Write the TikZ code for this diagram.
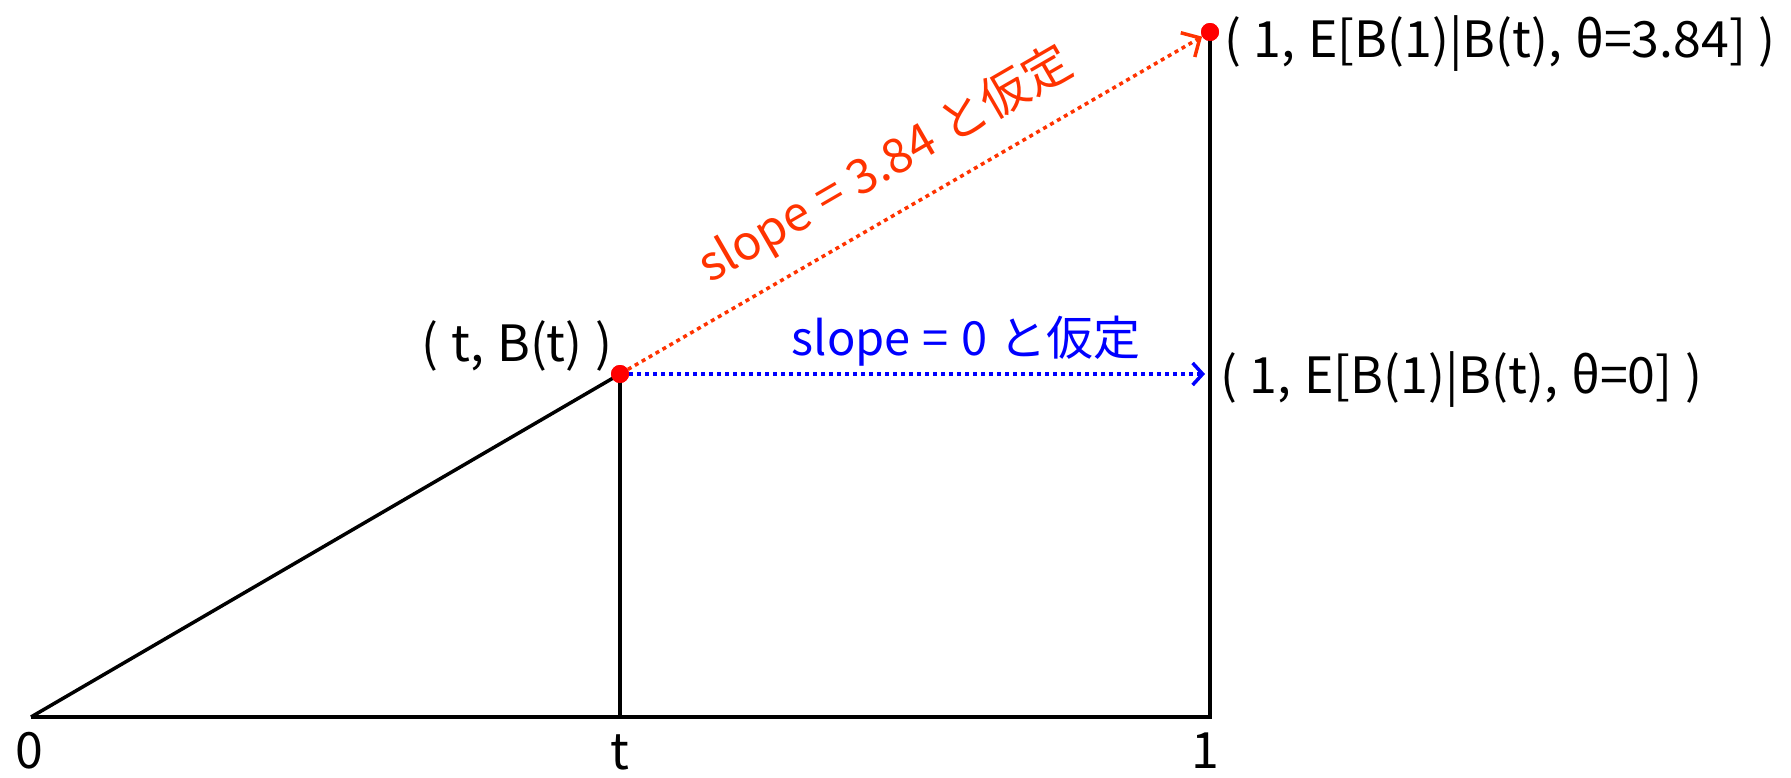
\documentclass[tikz,border=0pt]{standalone}
\usepackage{fontspec}
\setmainfont{Noto Sans CJK JP}[WordSpace=1.15]
\usetikzlibrary{arrows.meta}
\definecolor{slopered}{HTML}{FF3300}
\definecolor{dotred}{HTML}{FF0000}
\definecolor{slopeblue}{HTML}{0000FF}
\begin{document}
\begin{tikzpicture}[x=1pt,y=-1pt,
  axisline/.style={line width=3.5pt, black},
  ptdot/.style={circle, fill=dotred, inner sep=0pt, minimum size=18pt},
  redarrow/.style={line width=3.5pt, slopered, dash pattern=on 4pt off 4pt, -{Straight Barb[length=14pt, width=28pt, line width=3.5pt]}},
  bluearrow/.style={line width=3.5pt, slopeblue, dash pattern=on 4pt off 4pt, -{Straight Barb[length=10pt, width=22pt, line width=3.5pt]}},
  lbl/.style={inner sep=0pt, font=\fontsize{50}{54}\selectfont},
  tick/.style={inner sep=0pt, font=\fontsize{50}{54}\selectfont}
]
\useasboundingbox (0,0) rectangle (1791,777);
\coordinate (O) at (31,717);
\coordinate (T) at (620,717);
\coordinate (One) at (1210,717);
\coordinate (E0) at (1205,374);
\node[ptdot] (BT) at (620,374) {};
\node[ptdot] (Top) at (1210,32) {};
% black lines
\draw[axisline] (O) -- (BT.center);
\draw[axisline] (BT.center) -- (T);
\draw[axisline] (O) -- (T) -- (One) -- (Top.center);
% arrows
\draw[redarrow] (BT) -- (Top);
\draw[bluearrow] (BT) -- (E0);
\node[ptdot] at (BT.center) {};
\node[ptdot] at (Top.center) {};
% labels
\node[lbl, anchor=west] (LTop) at (1224,44) {( 1, E[B(1)|B(t), θ=3.84] )};
\node[lbl, anchor=west] (LZero) at (1220,380) {( 1, E[B(1)|B(t), θ=0] )};
\node[lbl] (LBT) at (517,346) {( t, B(t) )};
\node[tick] (N0) at (29,751) {0};
\node[tick] (Nt) at (620,752) {t};
\node[tick] (N1) at (1205,751) {1};
\node[inner sep=0pt, anchor=base, text=slopeblue, font=\fontsize{47}{50}\selectfont] (SB) at (966,355) {slope = 0 と仮定};
\node[inner sep=0pt, anchor=base, rotate=30.1, text=slopered, font=\fontsize{48}{52}\selectfont] (SR) at (893,178) {slope = 3.84 と仮定};
\end{tikzpicture}
\end{document}
